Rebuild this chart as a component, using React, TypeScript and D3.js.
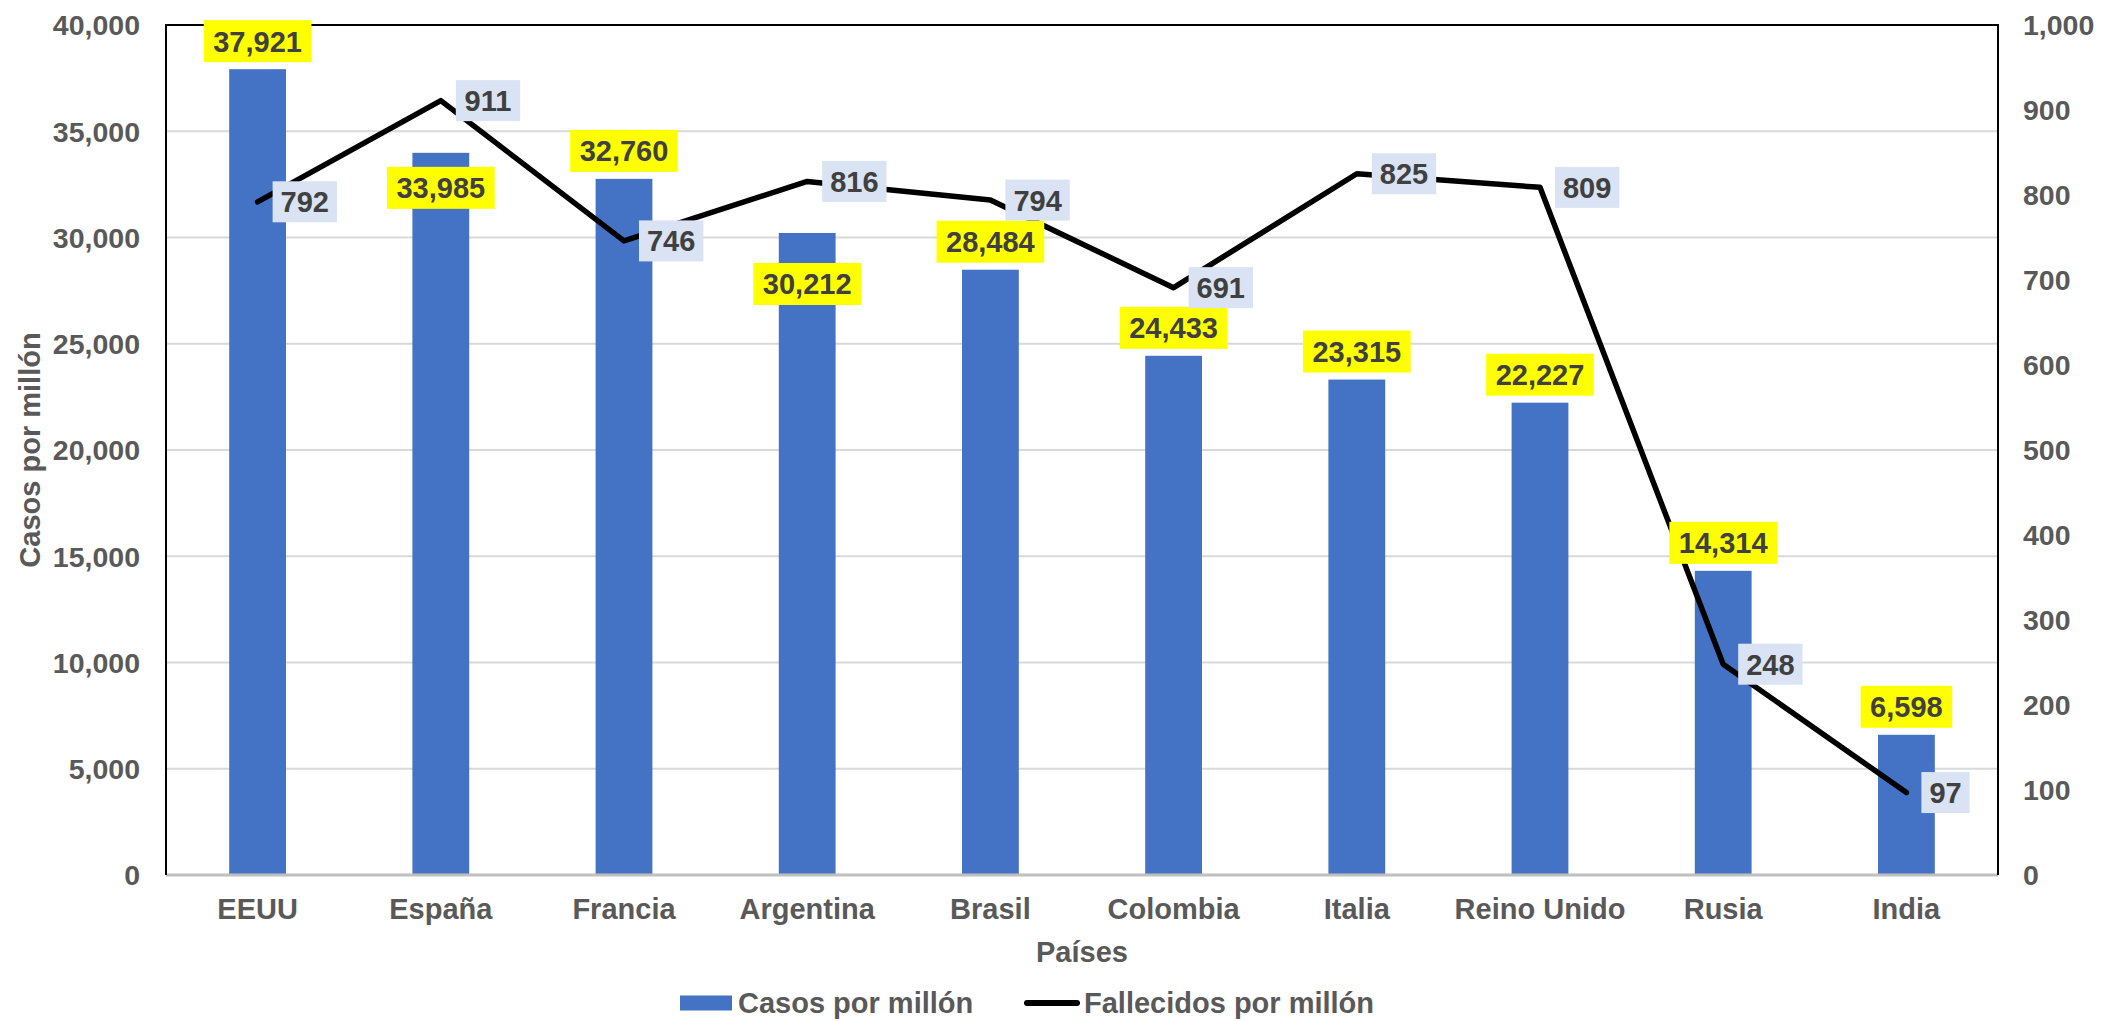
import * as d3 from 'd3';

// values
const paises = ['EEUU', 'España', 'Francia', 'Argentina', 'Brasil', 'Colombia', 'Italia', 'Reino Unido', 'Rusia', 'India'];
const casosPorMillon = [37921, 33985, 32760, 30212, 28484, 24433, 23315, 22227, 14314, 6598];
const fallecidosPorMillon = [792, 911, 746, 816, 794, 691, 825, 809, 248, 97];
const casosTicks = [0, 5000, 10000, 15000, 20000, 25000, 30000, 35000, 40000];
const fallecidosTicks = [0, 100, 200, 300, 400, 500, 600, 700, 800, 900, 1000];

// label nudges (Excel labels that were dragged below the bar top)
const casosLabelDy = [-28, 35, -28, 51, -28, -28, -28, -28, -28, -28];

const W = 2103;
const H = 1021;
const left = 166;
const right = 1998;
const top = 25;
const bottom = 875;

const FONT = '"Liberation Sans", Arial, sans-serif';
const FS = 29;
const TICK_FS = 28.5;
const fmt = d3.format(',');

export default function App() {
  const x = d3.scaleBand<string>()
    .domain(paises)
    .range([left, right])
    .paddingInner(0.69)
    .paddingOuter(0.345);

  const yL = d3.scaleLinear().domain([0, 40000]).range([bottom, top]);
  const yR = d3.scaleLinear().domain([0, 1000]).range([bottom, top]);

  const cx = (p: string) => (x(p) as number) + x.bandwidth() / 2;

  const line = d3.line<number>()
    .x((_d, i) => cx(paises[i]))
    .y(d => yR(d));

  // rough text widths for bold Arial digits
  const textW = (s: string) =>
    s.split('').reduce((a, c) => a + (c === ',' ? 0.278 : 0.556), 0) * FS;

  return (
    <svg width={W} height={H} style={{ position: 'absolute', left: 0, top: 0 }} fontFamily={FONT} fontWeight="bold">
      <rect width={W} height={H} fill="#fff" />

      {/* gridlines */}
      {casosTicks.slice(1, -1).map(t => (
        <line key={t} x1={left} x2={right} y1={yL(t)} y2={yL(t)} stroke="#D9D9D9" strokeWidth={2} />
      ))}

      {/* bars */}
      {paises.map((p, i) => (
        <rect key={p} x={x(p)} y={yL(casosPorMillon[i])} width={x.bandwidth()}
          height={bottom - yL(casosPorMillon[i])} fill="#4472C4" />
      ))}

      {/* plot frame */}
      <line x1={left} x2={right} y1={bottom} y2={bottom} stroke="#BFBFBF" strokeWidth={3} />
      <path d={`M${left},${bottom}V${top}H${right}V${bottom}`} fill="none" stroke="#000" strokeWidth={2} />

      {/* line */}
      <path d={line(fallecidosPorMillon) || ''} fill="none" stroke="#000" strokeWidth={5.5}
        strokeLinejoin="round" strokeLinecap="round" />

      {/* bar labels */}
      {paises.map((p, i) => {
        const s = fmt(casosPorMillon[i]);
        const w = textW(s) + 19;
        const cy = yL(casosPorMillon[i]) + casosLabelDy[i];
        return (
          <g key={p}>
            <rect x={cx(p) - w / 2} y={cy - 21} width={w} height={42} fill="#FFFF00" />
            <text x={cx(p)} y={cy} dy="0.36em" textAnchor="middle" fontSize={FS} fill="#404040">{s}</text>
          </g>
        );
      })}

      {/* line labels */}
      {paises.map((p, i) => {
        const s = fmt(fallecidosPorMillon[i]);
        const w = textW(s) + 16;
        const bx = cx(p) + 15;
        const cy = yR(fallecidosPorMillon[i]);
        return (
          <g key={p}>
            <rect x={bx} y={cy - 20.5} width={w} height={41} fill="#DAE3F3" />
            <text x={bx + w / 2} y={cy} dy="0.36em" textAnchor="middle" fontSize={FS} fill="#404040">{s}</text>
          </g>
        );
      })}

      {/* left axis */}
      {casosTicks.map(t => (
        <text key={t} x={140} y={yL(t)} dy="0.36em" textAnchor="end" fontSize={TICK_FS} fill="#595959">{fmt(t)}</text>
      ))}
      {/* right axis */}
      {fallecidosTicks.map(t => (
        <text key={t} x={2023} y={yR(t)} dy="0.36em" textAnchor="start" fontSize={TICK_FS} fill="#595959">{fmt(t)}</text>
      ))}

      {/* categories */}
      {paises.map(p => (
        <text key={p} x={cx(p)} y={919} textAnchor="middle" fontSize={FS} fill="#595959">{p}</text>
      ))}

      {/* axis titles */}
      <text x={(left + right) / 2} y={962} textAnchor="middle" fontSize={FS} fill="#595959">Países</text>
      <text transform={`translate(30,${(top + bottom) / 2}) rotate(-90)`} dy="0.36em" textAnchor="middle"
        fontSize={FS} fill="#595959">Casos por millón</text>

      {/* legend */}
      <g transform="translate(0,1003)">
        <rect x={680} y={-7.5} width={52} height={15} fill="#4472C4" />
        <text x={738} y={0} dy="0.36em" fontSize={FS} fill="#595959">Casos por millón</text>
        <line x1={1027} x2={1077} y1={0} y2={0} stroke="#000" strokeWidth={6} strokeLinecap="round" />
        <text x={1084} y={0} dy="0.36em" fontSize={FS} fill="#595959">Fallecidos por millón</text>
      </g>
    </svg>
  );
}
